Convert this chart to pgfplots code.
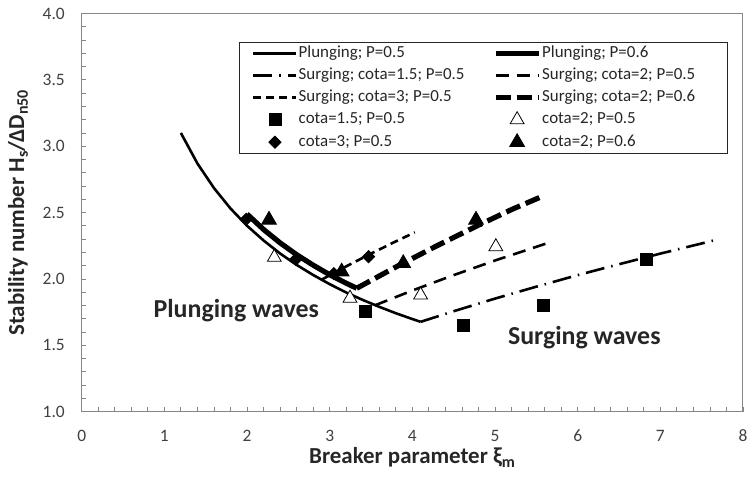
\documentclass[border=0pt]{standalone}
\usepackage{fontspec}
\setmainfont{Carlito}
\usepackage{pgfplots}
\pgfplotsset{compat=1.18}
\definecolor{axgray}{RGB}{134,134,134}
\definecolor{txt}{RGB}{38,38,38}
\definecolor{tickc}{RGB}{64,64,64}
\begin{document}
\begin{tikzpicture}
\useasboundingbox (-81.7bp,-66.3bp) rectangle (668.3bp,411.7bp);
\begin{axis}[
  scale only axis, width=661.3bp, height=398.2bp,
  xmin=0, xmax=8, ymin=1, ymax=4,
  xtick={0,1,...,8}, minor x tick num=4,
  ytick={1,1.5,...,4}, minor y tick num=4,
  tick pos=left, tick align=inside,
  major tick length=4.5bp, minor tick length=4.5bp,
  axis line style={axgray, line width=1bp},
  tick style={axgray, line width=0.8bp},
  /pgf/number format/assume math mode=true,
  tick label style={font=\fontsize{17.5}{17.5}\selectfont, text=tickc},
  yticklabel style={/pgf/number format/fixed, /pgf/number format/fixed zerofill, /pgf/number format/precision=1, inner xsep=0pt, xshift=-16.7bp},
  xticklabel style={anchor=base, yshift=-29.5bp},
  xlabel={Breaker parameter ξ\textsubscript{m}},
  ylabel={Stability number H\textsubscript{s}/ΔD\textsubscript{n50}},
  xlabel style={font=\fontsize{23}{23}\selectfont\bfseries, text=txt, at={(axis description cs:0.5,-0.13)}, anchor=base},
  ylabel style={font=\fontsize{23}{23}\selectfont\bfseries, text=txt, at={(axis description cs:-0.0963,0.5)}, anchor=center},
  legend columns=2,
  legend cell align=left,
  legend style={at={(axis description cs:0.2379,0.9292)}, anchor=north west,
    draw=txt, line width=0.8bp, inner xsep=12.7bp, inner ysep=3.6bp,
    font=\fontsize{17}{17}\selectfont, text=txt, row sep=6bp,
    nodes={inner xsep=0pt, inner ysep=0pt, text height=12bp, text depth=4bp},
    /tikz/every odd column/.style={column sep=1bp},
    /tikz/every even column/.style={column sep=0bp}},
  legend image code/.code={\draw[mark repeat=2,mark phase=2,#1] plot coordinates {(0bp,0bp) (21.5bp,0bp) (43bp,0bp)};},
]
% Plunging P=0.5
\addplot[black, line width=2.6bp, mark=none] coordinates {
(1.2,3.100) (1.4,2.870) (1.6,2.685) (1.8,2.531) (2.0,2.401) (2.2,2.290)
(2.4,2.192) (2.6,2.106) (2.8,2.030) (3.0,1.961) (3.2,1.898) (3.4,1.842)
(3.6,1.790) (3.8,1.742) (4.0,1.698) (4.10,1.677)};
\addlegendentry{\makebox[194.3bp][l]{Plunging; P=0.5}}
% Plunging P=0.6
\addplot[black, line width=5.2bp, mark=none] coordinates {
(2.0,2.489) (2.2,2.373) (2.4,2.272) (2.6,2.183) (2.8,2.104) (3.0,2.032)
(3.2,1.968) (3.327,1.930)};
\addlegendentry{\makebox[172bp][l]{Plunging; P=0.6}}
% Surging cota=1.5 P=0.5
\addplot[black, line width=2.6bp, mark=none, dash pattern=on 19bp off 7bp on 1.5bp off 7bp] coordinates {
(4.10,1.677) (4.5,1.757) (5.0,1.852) (5.5,1.942) (6.0,2.029) (6.5,2.111)
(7.0,2.191) (7.64,2.289)};
\addlegendentry{\makebox[194.3bp][l]{Surging; cota=1.5; P=0.5}}
% Surging cota=2 P=0.5
\addplot[black, line width=2.6bp, mark=none, dash pattern=on 13bp off 8bp] coordinates {
(3.55,1.802) (4.0,1.913) (4.5,2.029) (5.0,2.139) (5.625,2.268)};
\addlegendentry{\makebox[172bp][l]{Surging; cota=2; P=0.5}}
% Surging cota=3 P=0.5
\addplot[black, line width=2.6bp, mark=none, dash pattern=on 8bp off 5bp] coordinates {
(2.90,1.994) (3.2,2.095) (3.5,2.191) (3.8,2.283) (4.03,2.351)};
\addlegendentry{\makebox[194.3bp][l]{Surging; cota=3; P=0.5}}
% Surging cota=2 P=0.6
\addplot[black, line width=5.2bp, mark=none, dash pattern=on 15bp off 6bp] coordinates {
(3.327,1.930) (3.8,2.090) (4.3,2.251) (4.8,2.405) (5.2,2.523) (5.6,2.630)};
\addlegendentry{\makebox[172bp][l]{Surging; cota=2; P=0.6}}
% markers
\addplot[only marks, mark=square*, mark size=6bp, mark options={black, line width=0.8bp}] coordinates {
(3.435,1.754) (4.617,1.653) (5.584,1.804) (6.835,2.148)};
\addlegendentry{\makebox[194.3bp][l]{cota=1.5; P=0.5}}
\addplot[only marks, mark=triangle*, mark size=8bp, mark options={draw=black, fill=white, line width=0.8bp}] coordinates {
(2.33,2.163) (3.246,1.855) (4.10,1.879) (5.01,2.243)};
\addlegendentry{\makebox[172bp][l]{cota=2; P=0.5}}
\addplot[only marks, mark=square*, mark size=4.3bp, mark options={black, rotate=45, line width=0.8bp}] coordinates {
(1.99,2.45) (2.59,2.148) (3.05,2.04) (3.47,2.168)};
\addlegendentry{\makebox[194.3bp][l]{cota=3; P=0.5}}
\addplot[only marks, mark=triangle*, mark size=8.5bp, mark options={black, line width=0.8bp}] coordinates {
(2.266,2.445) (3.145,2.055) (3.89,2.118) (4.77,2.445)};
\addlegendentry{\makebox[172bp][l]{cota=2; P=0.6}}
\node[font=\fontsize{26}{26}\selectfont\bfseries, text=txt] at (axis cs:1.87,1.76) {Plunging waves};
\node[font=\fontsize{26}{26}\selectfont\bfseries, text=txt] at (axis cs:6.08,1.56) {Surging waves};
\end{axis}
\end{tikzpicture}
\end{document}
